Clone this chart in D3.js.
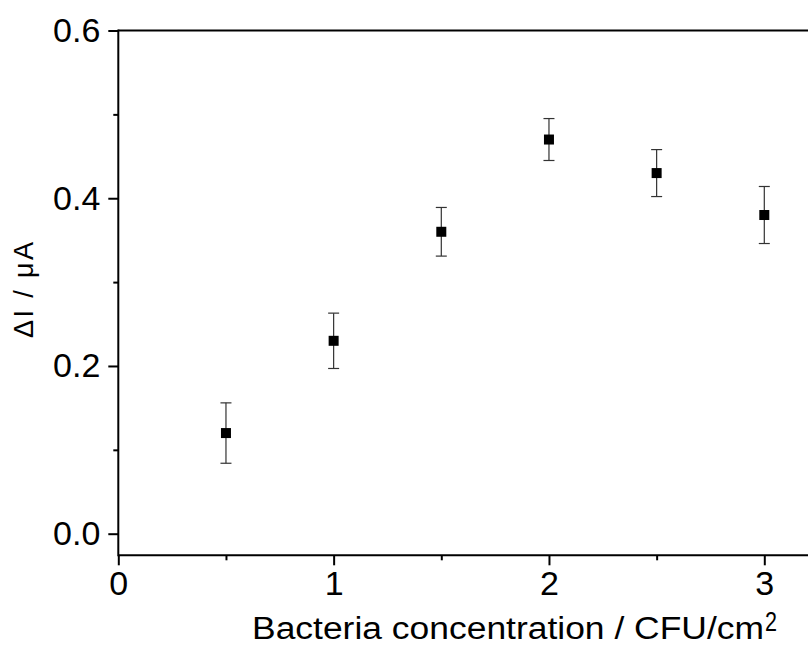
<!DOCTYPE html>
<html>
<head>
<meta charset="utf-8">
<script src="https://cdn.jsdelivr.net/npm/d3@7"></script>
<style>
  body { margin: 0; background: #fff; }
  svg { display: block; font-family: "Liberation Sans", Arial, sans-serif; }
</style>
</head>
<body>
<div id="chart"></div>
<script>
// Datos
const concentration = [0.5, 1, 1.5, 2, 2.5, 3];
const deltaI = [0.12, 0.23, 0.36, 0.47, 0.43, 0.38];
const errorBar = [0.036, 0.033, 0.029, 0.025, 0.028, 0.034];
const xMajorTicks = [0, 1, 2, 3];
const xMinorTicks = [0.5, 1.5, 2.5];
const yMajorTicks = [0, 0.2, 0.4, 0.6];
const yMinorTicks = [0.1, 0.3, 0.5];

const W = 808, H = 645;
const plotLeft = 118.3, plotTop = 30.5, plotBottom = 555.3;

const svg = d3.select("#chart").append("svg")
  .attr("width", W).attr("height", H);

const x = d3.scaleLinear().domain([0, 3]).range([plotLeft, 764.3]);
const y = d3.scaleLinear().domain([0, 0.6]).range([533.7, plotTop]);

const g = svg.append("g");

// Ejes con ticks mayores
g.append("g")
  .attr("transform", `translate(0,${plotBottom})`)
  .call(d3.axisBottom(x).tickValues(xMajorTicks).tickSize(10).tickPadding(6)
    .tickFormat(d3.format("d")))
  .call(a => a.select(".domain").remove())
  .call(a => a.selectAll("line").attr("stroke", "#000").attr("stroke-width", 2))
  .call(a => a.selectAll("text").attr("font-size", 34).attr("fill", "#000")
    .attr("font-family", "Liberation Sans, Arial, sans-serif"));

g.append("g")
  .attr("transform", `translate(0,${plotBottom})`)
  .call(d3.axisBottom(x).tickValues(xMinorTicks).tickSize(5).tickFormat(""))
  .call(a => a.select(".domain").remove())
  .call(a => a.selectAll("line").attr("stroke", "#000").attr("stroke-width", 2));

g.append("g")
  .attr("transform", `translate(${plotLeft},0)`)
  .call(d3.axisLeft(y).tickValues(yMajorTicks).tickSize(10).tickPadding(8)
    .tickFormat(d3.format(".1f")))
  .call(a => a.select(".domain").remove())
  .call(a => a.selectAll("line").attr("stroke", "#000").attr("stroke-width", 2))
  .call(a => a.selectAll("text").attr("font-size", 34).attr("fill", "#000")
    .attr("font-family", "Liberation Sans, Arial, sans-serif"));

g.append("g")
  .attr("transform", `translate(${plotLeft},0)`)
  .call(d3.axisLeft(y).tickValues(yMinorTicks).tickSize(5).tickFormat(""))
  .call(a => a.select(".domain").remove())
  .call(a => a.selectAll("line").attr("stroke", "#000").attr("stroke-width", 2));

// Marco
g.append("line").attr("x1", plotLeft).attr("x2", W + 2).attr("y1", plotTop).attr("y2", plotTop)
  .attr("stroke", "#000").attr("stroke-width", 2);
g.append("line").attr("x1", plotLeft).attr("x2", W + 2).attr("y1", plotBottom).attr("y2", plotBottom)
  .attr("stroke", "#000").attr("stroke-width", 2);
g.append("line").attr("x1", plotLeft).attr("x2", plotLeft).attr("y1", plotTop - 1).attr("y2", plotBottom + 1)
  .attr("stroke", "#000").attr("stroke-width", 2);

// Barras de error
const pts = concentration.map((c, i) => ({ c, v: deltaI[i], e: errorBar[i] }));

const eb = g.selectAll(".err").data(pts).enter().append("g").attr("class", "err")
  .attr("stroke", "#333").attr("stroke-width", 1.2);
eb.append("line")
  .attr("x1", d => x(d.c)).attr("x2", d => x(d.c))
  .attr("y1", d => y(d.v + d.e)).attr("y2", d => y(d.v - d.e));
eb.append("line")
  .attr("x1", d => x(d.c) - 5.5).attr("x2", d => x(d.c) + 5.5)
  .attr("y1", d => y(d.v + d.e)).attr("y2", d => y(d.v + d.e));
eb.append("line")
  .attr("x1", d => x(d.c) - 5.5).attr("x2", d => x(d.c) + 5.5)
  .attr("y1", d => y(d.v - d.e)).attr("y2", d => y(d.v - d.e));

g.selectAll(".dot").data(pts).enter().append("rect").attr("class", "dot")
  .attr("x", d => x(d.c) - 5).attr("y", d => y(d.v) - 5)
  .attr("width", 10).attr("height", 10).attr("fill", "#000");

// Titulos de ejes
svg.append("text")
  .attr("x", 252).attr("y", 639)
  .attr("font-size", 31).attr("fill", "#000")
  .attr("textLength", 512).attr("lengthAdjust", "spacingAndGlyphs")
  .text("Bacteria concentration / CFU/cm");
svg.append("text")
  .attr("x", 765).attr("y", 631)
  .attr("font-size", 28).attr("fill", "#000")
  .attr("textLength", 12).attr("lengthAdjust", "spacingAndGlyphs")
  .text("2");

svg.append("text")
  .attr("transform", "translate(33,290) rotate(-90)")
  .attr("text-anchor", "middle")
  .attr("font-size", 27).attr("fill", "#000")
  .attr("textLength", 96).attr("lengthAdjust", "spacing")
  .text("ΔI / μA");
</script>
</body>
</html>
